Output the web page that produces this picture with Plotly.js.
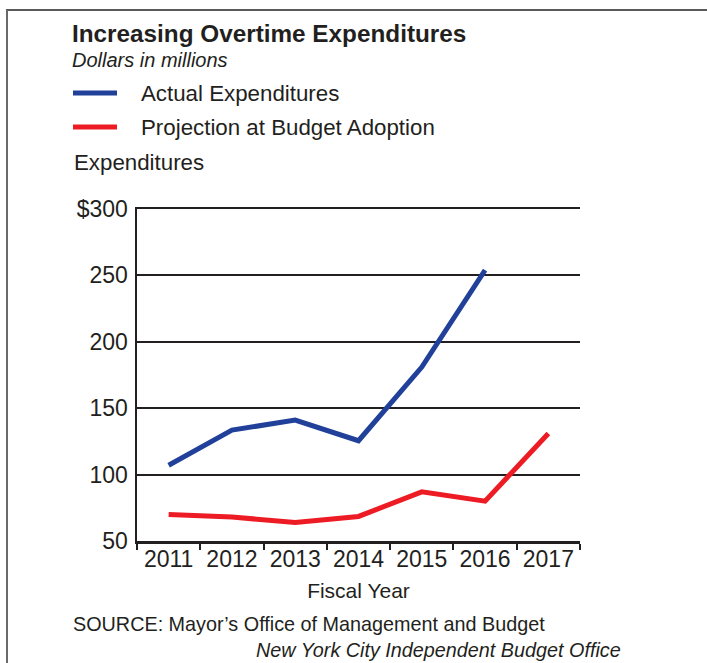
<!DOCTYPE html>
<html>
<head>
<meta charset="utf-8">
<script src="https://cdn.plot.ly/plotly-3.0.1.min.js"></script>
<style>
  html, body { margin: 0; padding: 0; background: #ffffff; }
  #chart { width: 707px; height: 663px; }
</style>
</head>
<body>
<div id="chart"></div>
<script>
// ---- Data ----
const fiscalYears = ['2011', '2012', '2013', '2014', '2015', '2016', '2017'];
const actualExpenditures = [107, 133.5, 141, 125.5, 181, 254, null];
const budgetProjection = [70, 68, 64, 68.5, 87, 80, 131];
const yTickValues = [50, 100, 150, 200, 250, 300];
const yTickLabels = ['50', '100', '150', '200', '250', '$300'];
const seriesNames = ['Actual Expenditures', 'Projection at Budget Adoption'];

// ---- Style / geometry ----
const W = 707, H = 663;
const M = { l: 137, r: 127, t: 209, b: 122 };
const PW = W - M.l - M.r, PH = H - M.t - M.b;
const px = x => (x - M.l) / PW;          // pixel -> paper x
const py = y => (H - M.b - y) / PH;      // pixel -> paper y
const INK = '#231f20';
const BLUE = '#21409a';
const RED = '#ed1c24';
const FONT = 'Liberation Sans, Arial, sans-serif';

const traces = [
  {
    x: fiscalYears, y: actualExpenditures, name: seriesNames[0],
    type: 'scatter', mode: 'lines', connectgaps: false,
    line: { color: BLUE, width: 5 }, showlegend: false, hoverinfo: 'x+y'
  },
  {
    x: fiscalYears, y: budgetProjection, name: seriesNames[1],
    type: 'scatter', mode: 'lines',
    line: { color: RED, width: 5 }, showlegend: false, hoverinfo: 'x+y'
  }
];

function txt(text, x, y, size, opts) {
  return Object.assign({
    text: text, xref: 'paper', yref: 'paper', x: px(x), y: py(y),
    xanchor: 'left', yanchor: 'middle', showarrow: false,
    font: { family: FONT, size: size, color: INK }
  }, opts || {});
}

const annotations = [
  txt('<b>Increasing Overtime Expenditures</b>', 70, 33, 24.3),
  txt('<i>Dollars in millions</i>', 70, 60, 20),
  txt(seriesNames[0], 139, 93, 22.3),
  txt(seriesNames[1], 139, 127, 22.3),
  txt('Expenditures', 72, 162, 22.3),
  txt('SOURCE: Mayor’s Office of Management and Budget', 71, 624, 19.8),
  txt('<i>New York City Independent Budget Office</i>', 623, 650, 19.8, { xanchor: 'right' })
];

const shapes = [
  // frame lines (top and left)
  { type: 'line', xref: 'paper', yref: 'paper', x0: px(6), x1: px(707), y0: py(10), y1: py(10),
    line: { color: '#5a5a5a', width: 2 } },
  { type: 'line', xref: 'paper', yref: 'paper', x0: px(7), x1: px(7), y0: py(10), y1: py(663),
    line: { color: '#6a6a6a', width: 2 } },
  // legend swatches
  { type: 'line', xref: 'paper', yref: 'paper', x0: px(73), x1: px(117), y0: py(93), y1: py(93),
    line: { color: BLUE, width: 5 } },
  { type: 'line', xref: 'paper', yref: 'paper', x0: px(73), x1: px(117), y0: py(127), y1: py(127),
    line: { color: RED, width: 5 } }
];

const layout = {
  width: W, height: H,
  margin: M,
  paper_bgcolor: '#ffffff', plot_bgcolor: '#ffffff',
  font: { family: FONT, color: INK, size: 22 },
  showlegend: false,
  xaxis: {
    type: 'category',
    categoryorder: 'array', categoryarray: fiscalYears,
    range: [-0.5, fiscalYears.length - 0.5],
    tickson: 'boundaries',
    ticks: 'outside', ticklen: 6, tickwidth: 2, tickcolor: INK,
    ticklabelstandoff: -4,
    showline: true, linecolor: INK, linewidth: 2.5, mirror: true,
    showgrid: false, zeroline: false,
    tickfont: { family: FONT, size: 23, color: INK },
    title: { text: 'Fiscal Year', font: { family: FONT, size: 21, color: INK }, standoff: 12 },
    fixedrange: true
  },
  yaxis: {
    range: [50, 300],
    tickmode: 'array', tickvals: yTickValues, ticktext: yTickLabels,
    ticks: '', ticklabelstandoff: 2,
    showline: true, linecolor: INK, linewidth: 2.5,
    showgrid: true, gridcolor: INK, gridwidth: 2,
    zeroline: false,
    tickfont: { family: FONT, size: 23, color: INK },
    fixedrange: true
  },
  annotations: annotations,
  shapes: shapes
};

Plotly.newPlot('chart', traces, layout, { displayModeBar: false, staticPlot: true });
</script>
</body>
</html>
